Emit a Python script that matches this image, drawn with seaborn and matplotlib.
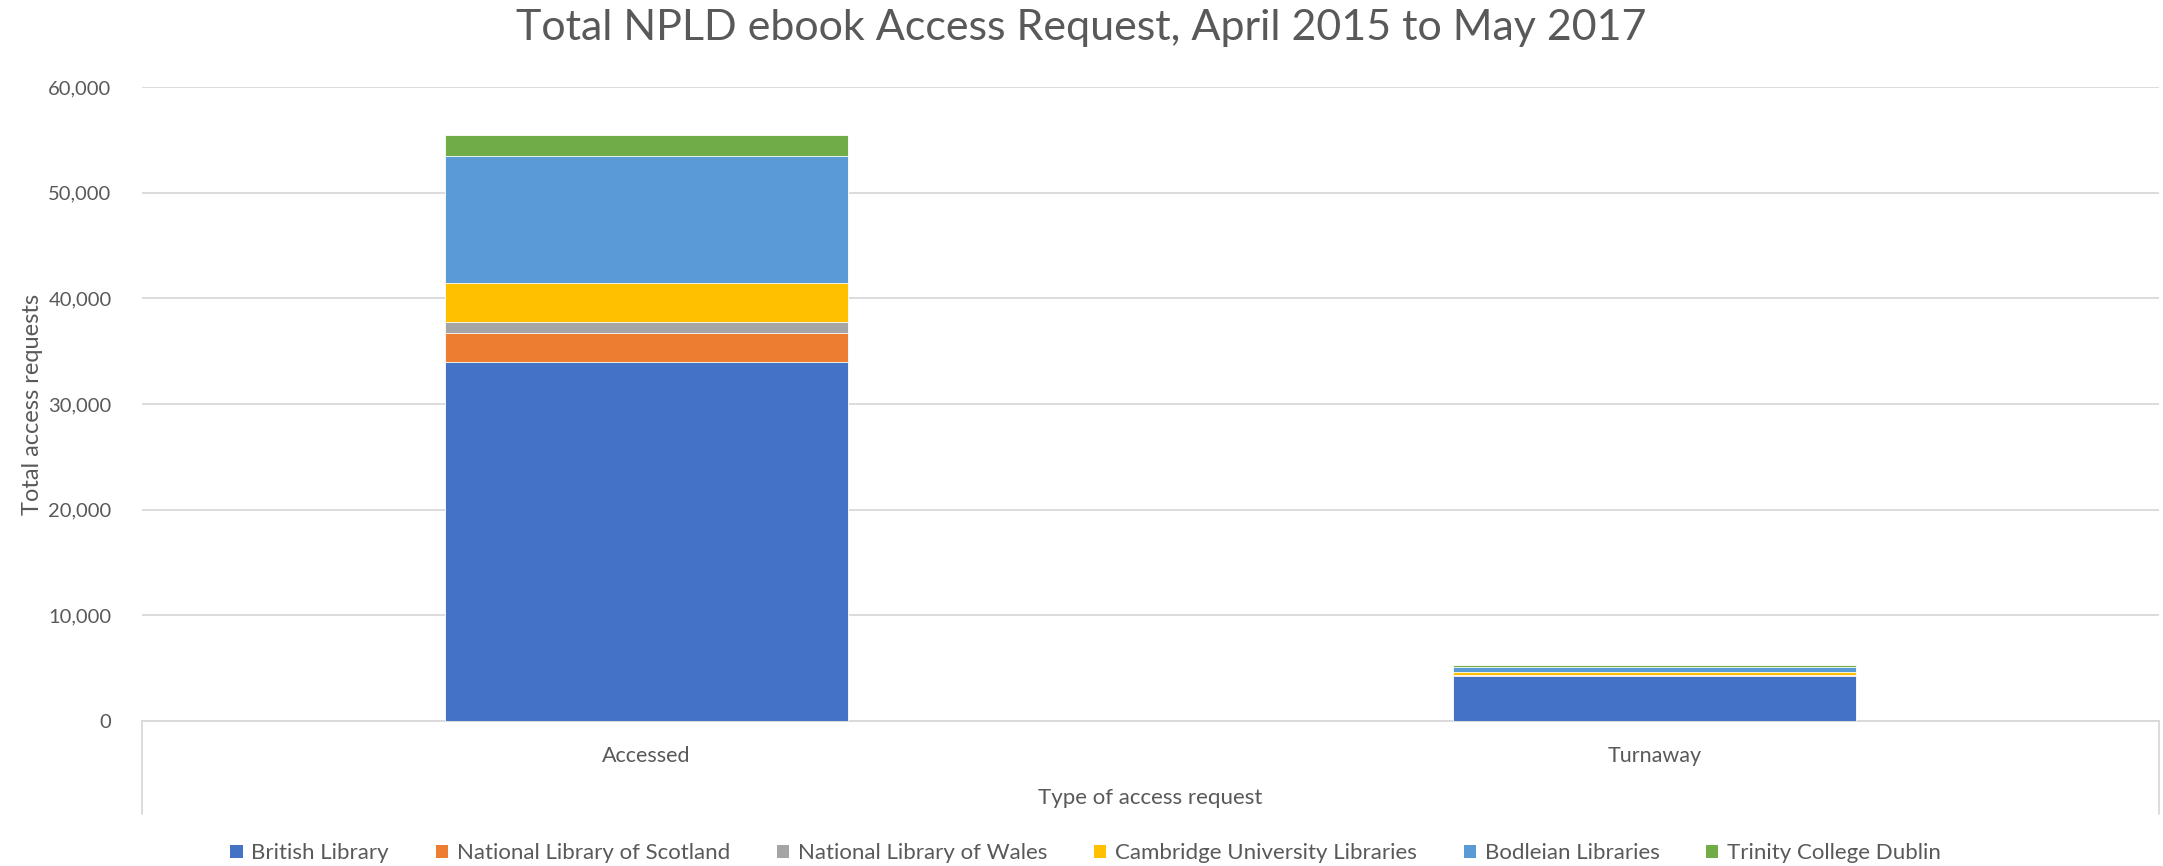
import numpy as np
import pandas as pd
import matplotlib
matplotlib.use("Agg")
import matplotlib.pyplot as plt
import seaborn as sns
from matplotlib.patches import Patch

# ---- data ----
categories = ["Accessed", "Turnaway"]
libraries = ["British Library", "National Library of Scotland", "National Library of Wales",
             "Cambridge University Libraries", "Bodleian Libraries", "Trinity College Dublin"]
british = [34000, 4300]
scotland = [2700, 60]
wales = [1050, 30]
cambridge = [3750, 230]
bodleian = [12000, 480]
trinity = [2000, 250]
colors = ["#4472C4", "#ED7D31", "#A5A5A5", "#FFC000", "#5B9BD5", "#70AD47"]

title = "Total NPLD ebook Access Request, April 2015 to May 2017"
y_ticks = [0, 10000, 20000, 30000, 40000, 50000, 60000]

series = [british, scotland, wales, cambridge, bodleian, trinity]

sns.set_style("white")
plt.rcParams['font.family'] = ['Lato', 'DejaVu Sans']
txt = "#595959"

fig = plt.figure(figsize=(21.63, 8.66), dpi=100)
ax = fig.add_axes([0.0657, 0.1674, 0.9323, 0.7321])

cum = np.cumsum(np.array(series, dtype=float), axis=0)
# draw cumulative totals from top layer down so lower layers overlay
for i in range(len(series) - 1, -1, -1):
    df = pd.DataFrame({"type": categories, "value": cum[i]})
    sns.barplot(data=df, x="type", y="value", color=colors[i], width=0.4,
                saturation=1, ax=ax, edgecolor="white", linewidth=0.6, zorder=3)

ax.set_xlim(-0.5, 1.5)
ax.set_ylim(0, 60000)
ax.set_yticks(y_ticks)
ax.set_yticklabels([f"{v:,}" for v in y_ticks], color=txt, fontsize=14.5)
ax.yaxis.grid(True, color="#D9D9D9", linewidth=1.3, zorder=0)
ax.set_axisbelow(True)
for s in ["top", "right", "left"]:
    ax.spines[s].set_visible(False)
ax.spines["bottom"].set_color("#D9D9D9")
ax.spines["bottom"].set_linewidth(1.3)
ax.tick_params(axis="y", length=0, pad=22)
ax.tick_params(axis="x", length=0, pad=18)
for lab in ax.get_xticklabels():
    lab.set_color(txt)
    lab.set_fontsize(15.5)

ax.set_xlabel("Type of access request", color=txt, fontsize=16, labelpad=16)
ax.set_ylabel("Total access requests", color=txt, fontsize=17, labelpad=4)

# category axis box lines
for xx in (0.0, 1.0):
    ax.plot([xx, xx], [0, -0.147], transform=ax.transAxes, color="#D9D9D9",
            linewidth=1.3, clip_on=False)

fig.suptitle(title, color=txt, fontsize=31, y=0.99)

handles = [Patch(facecolor=c, edgecolor="none", label=l) for c, l in zip(colors, libraries)]
fig.legend(handles=handles, loc="lower center", bbox_to_anchor=(0.502, -0.02), ncol=6,
           frameon=False, fontsize=16, handlelength=0.55, handleheight=0.55,
           handletextpad=0.4, columnspacing=2.1, labelcolor=txt)

fig.savefig("out.png", dpi=100)
